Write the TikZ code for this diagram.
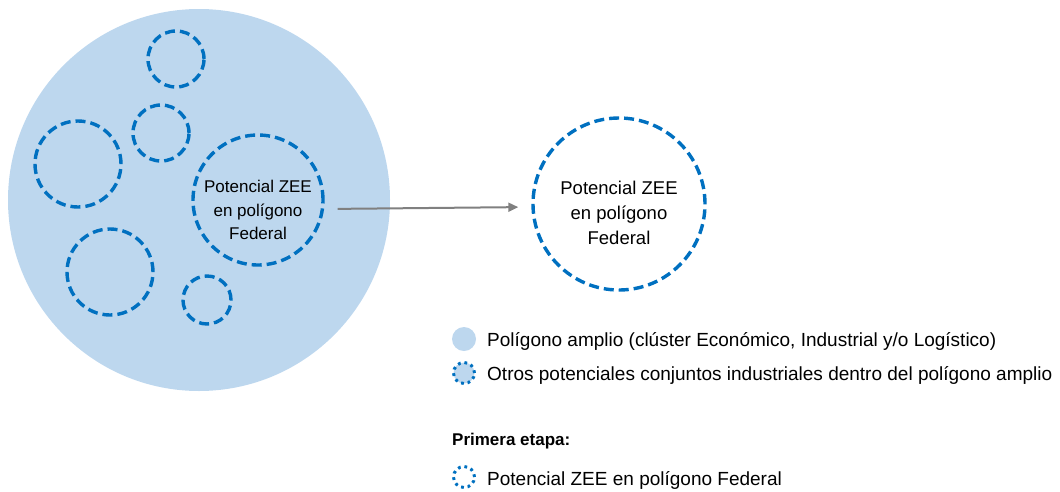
\documentclass[tikz,border=0pt]{standalone}
\usepackage{fontspec}
\setmainfont{Liberation Sans}
\usetikzlibrary{arrows.meta}

\definecolor{zeeblue}{RGB}{0,112,192}
\definecolor{polyfill}{RGB}{189,215,238}
\definecolor{arrowgray}{RGB}{128,128,128}

\tikzset{
    zee/.style={draw=zeeblue, circle, line width=3.4pt, inner sep=0pt, dash pattern=on 10pt off 5pt},
    legdot/.style={draw=zeeblue, circle, line width=3pt, inner sep=0pt, minimum size=21pt, dash pattern=on 2.8pt off 3.8pt},
    zeetext/.style={align=center, font=\fontsize{17}{23.5}\selectfont},
    legtext/.style={anchor=west, inner sep=0pt, font=\fontsize{19}{22}\selectfont}
}

\begin{document}
\begin{tikzpicture}[x=1pt, y=-1pt]
    \useasboundingbox (0,0) rectangle (1060,491);

    % polígono amplio
    \node[name=poly, circle, fill=polyfill, minimum size=382pt, inner sep=0pt] at (199,200) {};

    % otros conjuntos
    \foreach \x/\y/\r [count=\i] in {176/59/28, 161/133/28, 78/164/43, 110/272/43, 207/300/24}
        {
            \node[name=c_\i, zee, minimum size={2*\r pt}] at (\x,\y) {};
        }

    \node[name=main, zee, minimum size=130pt] at (258,200) {};
    \node[name=maintxt, zeetext] at ([yshift=-10pt]main.center) {Potencial ZEE\\en polígono\\Federal};

    \node[name=fed, zee, minimum size=172pt] at (619,204) {};
    \node[name=fedtxt, zeetext, font=\fontsize{18.5}{25}\selectfont] at ([yshift=-9pt]fed.center) {Potencial ZEE\\en polígono\\Federal};

    \draw[arrowgray, line width=2pt, -{Stealth[length=10pt, width=9pt, inset=0pt]}, shorten <=13pt, shorten >=13pt]
        ([yshift=-9pt]main.east) -- ([yshift=-3pt]fed.west);

    % leyenda
    \node[name=leg1, circle, fill=polyfill, minimum size=24pt, inner sep=0pt] at (464,339) {};
    \node[name=leg2, legdot, fill=polyfill] at (464,373) {};
    \node[name=leg3, legdot] at (464,477) {};
    \node[name=txt1, legtext] at (487,341) {Polígono amplio (clúster Económico, Industrial y/o Logístico)};
    \node[name=txt2, legtext] at (487,375) {Otros potenciales conjuntos industriales dentro del polígono amplio};
    \node[name=txt3, legtext, font=\fontsize{17}{20}\selectfont\bfseries] at (452,441) {Primera etapa:};
    \node[name=txt4, legtext] at (487,480) {Potencial ZEE en polígono Federal};
\end{tikzpicture}
\end{document}
